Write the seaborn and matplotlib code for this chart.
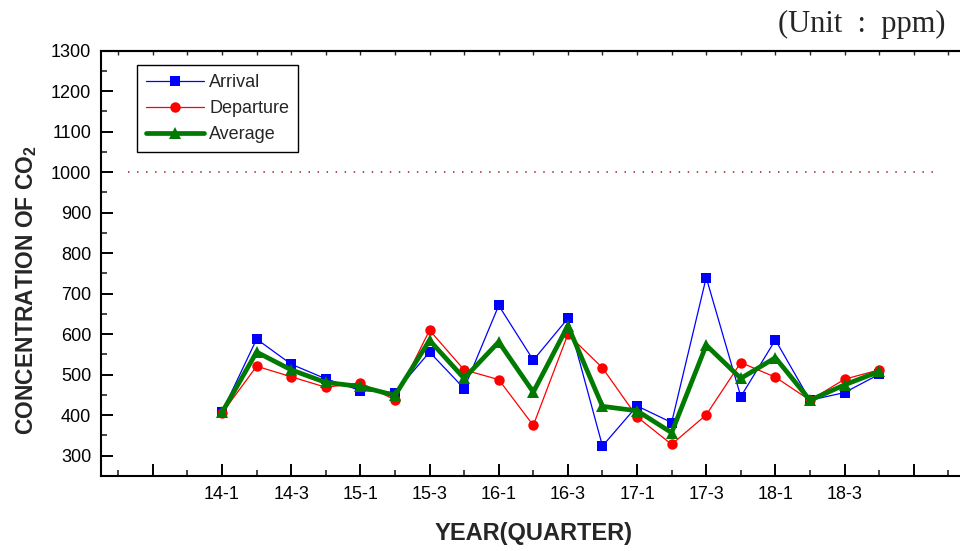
import matplotlib
matplotlib.use("Agg")
import matplotlib.pyplot as plt
import seaborn as sns
import pandas as pd
import numpy as np

# Quarterly CO2 readings (ppm)
quarters = ["14-1", "14-2", "14-3", "14-4", "15-1", "15-2", "15-3", "15-4",
            "16-1", "16-2", "16-3", "16-4", "17-1", "17-2", "17-3", "17-4",
            "18-1", "18-2", "18-3", "18-4"]
arrival = [408, 588, 526, 490, 461, 456, 556, 466, 671, 536,
           639, 324, 423, 382, 740, 446, 586, 437, 456, 501]
departure = [405, 521, 495, 469, 480, 438, 610, 512, 488, 375,
             600, 517, 396, 328, 401, 530, 494, 437, 489, 512]
average = [407, 556, 512, 481, 471, 449, 585, 491, 581, 457,
           621, 422, 411, 357, 573, 491, 542, 437, 475, 508]
limit_ppm = 1000

df = pd.DataFrame({
    "idx": np.arange(len(quarters)),
    "quarter": quarters,
    "Arrival": arrival,
    "Departure": departure,
    "Average": average,
})

sns.set_theme(style="white")
plt.rcParams["font.family"] = ["Liberation Sans Narrow", "Liberation Sans", "DejaVu Sans"]
plt.rcParams["mathtext.default"] = "regular"

fig = plt.figure(figsize=(9.6, 5.51), dpi=100)
ax = fig.add_axes([101 / 960, 1 - 476 / 551, 864.6 / 960, 425.3 / 551])

sns.lineplot(data=df, x="idx", y="Arrival", ax=ax, color="#0000ff", lw=0.9,
             marker="s", markersize=6.5, markeredgewidth=0, label="Arrival", zorder=3)
sns.lineplot(data=df, x="idx", y="Departure", ax=ax, color="#ff0000", lw=0.9,
             marker="o", markersize=7.5, markeredgewidth=0, label="Departure", zorder=4)
sns.lineplot(data=df, x="idx", y="Average", ax=ax, color="#007a00", lw=3.4,
             marker="^", markersize=8.5, markeredgewidth=0, label="Average", zorder=5)

# guideline at the indoor standard
ax.hlines(limit_ppm, -2.72, 20.6, colors="#b03a3a", linestyles=(0, (0.8, 4.2)), lw=1.3, zorder=2)

ax.set_xlim(-3.5, 21.5)
ax.set_ylim(250, 1300)

major_x = np.arange(-2, 21, 2)
major_labels = [quarters[i] if 0 <= i < len(quarters) else "" for i in major_x]
ax.set_xticks(major_x)
ax.set_xticklabels(major_labels)
ax.set_xticks(np.arange(-3, 22, 2), minor=True)
ax.set_yticks(np.arange(300, 1301, 100))
ax.set_yticks(np.arange(350, 1300, 100), minor=True)

ax.tick_params(axis="both", which="major", direction="in", length=8.5, width=1.4,
               labelsize=13, colors="black")
ax.tick_params(axis="both", which="minor", direction="in", length=4.5, width=1.2)
ax.tick_params(axis="x", which="major", pad=7)
ax.tick_params(axis="y", which="major", pad=7)
ax.tick_params(axis="both", which="both", bottom=True, left=True, top=False, right=False)

top = ax.secondary_xaxis("top")
top.set_xticks(np.arange(-3, 22, 1))
top.tick_params(direction="in", length=3, width=1.0, labeltop=False)
top.spines["top"].set_linewidth(1.5)

for side in ["left", "bottom", "top"]:
    ax.spines[side].set_visible(True)
    ax.spines[side].set_color("black")
    ax.spines[side].set_linewidth(1.5)
ax.spines["right"].set_visible(False)

ax.set_xlabel("YEAR(QUARTER)", fontsize=17, fontweight="bold", labelpad=14)
ax.set_ylabel("CONCENTRATION OF CO$_{2}$", fontsize=16.5, fontweight="bold")
ax.yaxis.set_label_coords(-0.072, 0.437)

leg = ax.legend(loc="upper left", bbox_to_anchor=(0.0416, 0.966), borderaxespad=0,
                fontsize=13, frameon=True, fancybox=False, shadow=False,
                handlelength=3.2, handletextpad=0.3, labelspacing=0.5,
                borderpad=0.5, framealpha=1)
leg.get_frame().set_edgecolor("black")
leg.get_frame().set_linewidth(1.0)

fig.text(945 / 960, 1 - 24 / 551, "(Unit  :  ppm)", ha="right", va="center",
         fontsize=22, family=["Liberation Serif", "DejaVu Serif"])

fig.savefig("out.png", dpi=100)
